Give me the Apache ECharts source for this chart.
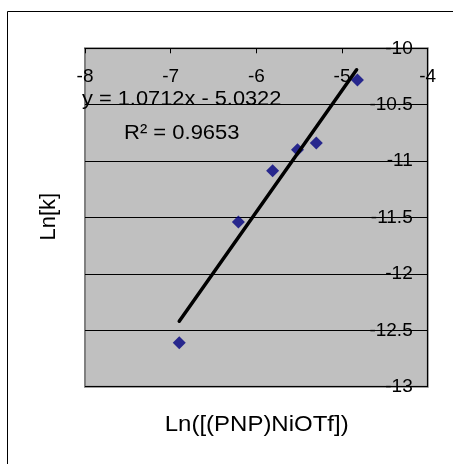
<!DOCTYPE html>
<html>
<head>
<meta charset="utf-8">
<script src="https://cdn.jsdelivr.net/npm/echarts@6/dist/echarts.min.js"></script>
<style>
html,body{margin:0;padding:0;background:#fff;}
#chart{width:453px;height:464px;}
</style>
</head>
<body>
<div id="chart"></div>
<script>
// Data
const xValues = [-6.90, -6.21, -5.81, -5.52, -5.30, -4.82];
const yValues = [-12.61, -11.54, -11.085, -10.90, -10.84, -10.28];
// Linear trendline end points (as drawn)
const trendX = [-6.90, -4.83];
const trendY = [-12.42, -10.19];
// Axis ranges / ticks
const xRange = [-8, -4, 1];
const yRange = [-13, -10, 0.5];
// Texts
const xTitle = 'Ln([(PNP)NiOTf])';
const yTitle = 'Ln[k]';
const eqText = 'y = 1.0712x - 5.0322';
const r2Text = 'R\u00B2 = 0.9653';

const FONT = '"Liberation Sans", Arial, sans-serif';
const chart = echarts.init(document.getElementById('chart'), null, {renderer: 'canvas'});

const points = xValues.map((x, i) => [x, yValues[i]]);
const trend = trendX.map((x, i) => [x, trendY[i]]);

chart.setOption({
  animation: false,
  backgroundColor: '#ffffff',
  grid: {
    left: 85, top: 48.3, width: 342.7, height: 338.4,
    show: true, backgroundColor: '#C0C0C0', borderColor: '#808080', borderWidth: 2
  },
  xAxis: {
    type: 'value', min: xRange[0], max: xRange[1], interval: xRange[2],
    position: 'top',
    axisLine: {show: true, onZero: false, lineStyle: {color: '#000', width: 1}},
    axisTick: {show: true, inside: true, length: 5, lineStyle: {color: '#000'}},
    axisLabel: {inside: true, margin: 19, color: '#000', fontSize: 19, fontFamily: FONT,
      showMinLabel: true, showMaxLabel: true},
    splitLine: {show: false}
  },
  yAxis: {
    type: 'value', min: yRange[0], max: yRange[1], interval: yRange[2],
    position: 'right',
    axisLine: {show: true, onZero: false, lineStyle: {color: '#000', width: 1}},
    axisTick: {show: true, inside: true, length: 5, lineStyle: {color: '#000'}},
    axisLabel: {inside: true, margin: 15, color: '#000', fontSize: 19, fontFamily: FONT,
      showMinLabel: true, showMaxLabel: true},
    splitLine: {show: true, lineStyle: {color: '#000', width: 1}}
  },
  series: [
    {
      type: 'scatter', data: points, symbol: 'diamond', symbolSize: 13,
      itemStyle: {color: '#000080'}, z: 2
    },
    {
      type: 'line', data: trend, symbol: 'none', z: 3,
      lineStyle: {color: '#000', width: 3.5, cap: 'round'}
    }
  ],
  graphic: [
    {type: 'rect', shape: {x: 7.5, y: 11.5, width: 480, height: 480}, silent: true, z: -10,
      style: {fill: 'none', stroke: '#000', lineWidth: 1}},
    {type: 'text', x: 82, y: 99, scaleX: 1.09, z: 10,
      style: {text: eqText, font: '20px ' + FONT, fill: '#000', align: 'left', verticalAlign: 'middle'}},
    {type: 'text', x: 124, y: 133, scaleX: 1.1, z: 10,
      style: {text: r2Text, font: '20px ' + FONT, fill: '#000', align: 'left', verticalAlign: 'middle'}},
    {type: 'text', x: 256.7, y: 425, scaleX: 1.09, z: 10,
      style: {text: xTitle, font: '22px ' + FONT, fill: '#000', align: 'center', verticalAlign: 'middle'}},
    {type: 'text', x: 49.3, y: 216.7, rotation: Math.PI / 2, z: 10,
      style: {text: yTitle, font: '22px ' + FONT, fill: '#000', align: 'center', verticalAlign: 'middle'}}
  ]
});
</script>
</body>
</html>
